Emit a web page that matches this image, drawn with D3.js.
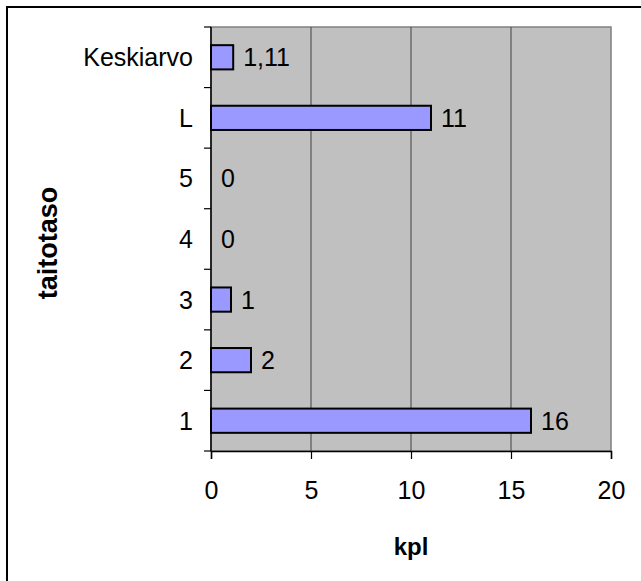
<!DOCTYPE html>
<html><head><meta charset="utf-8">
<script src="https://cdn.jsdelivr.net/npm/d3@7/dist/d3.min.js"></script>
<style>body{margin:0;background:#fff}svg{display:block}text{font-family:Arial,"Liberation Sans",sans-serif}</style>
</head><body>
<svg id="c" width="641" height="581"></svg>
<script>
const categories = ["1","2","3","4","5","L","Keskiarvo"];
const values = [16,2,1,0,0,11,1.11];
const valueLabels = ["16","2","1","0","0","11","1,11"];
const xTicks = [0,5,10,15,20];

const svg = d3.select("#c");
const L=211,R=611,T=27,B=451;
const FS=25;
// outer frame (cropped at right/bottom)
svg.append("rect").attr("x",7).attr("y",7).attr("width",700).attr("height",700)
  .attr("fill","none").attr("stroke","#000").attr("stroke-width",2);

const x = d3.scaleLinear().domain([0,20]).range([L,R]);
const y = d3.scaleBand().domain(categories).range([B,T]);

svg.append("rect").attr("x",L).attr("y",T).attr("width",R-L).attr("height",B-T)
  .attr("fill","#C0C0C0").attr("stroke","#808080").attr("stroke-width",1.5);

svg.append("g").selectAll("line").data(xTicks.filter(d=>d>0&&d<20)).join("line")
  .attr("x1",d=>x(d)).attr("x2",d=>x(d)).attr("y1",T).attr("y2",B)
  .attr("stroke","#555").attr("stroke-width",1.2);

const bh = y.step()*0.4;
const data = categories.map((c,i)=>({c,v:values[i],l:valueLabels[i]}));
svg.append("g").selectAll("rect").data(data.filter(d=>d.v>0)).join("rect")
  .attr("x",x(0)).attr("y",d=>y(d.c)+y.step()/2-bh/2)
  .attr("width",d=>x(d.v)-x(0)).attr("height",bh)
  .attr("fill","#9999FF").attr("stroke","#000").attr("stroke-width",2);

svg.append("g").selectAll("text").data(data).join("text")
  .attr("x",d=>x(d.v)+10).attr("y",d=>y(d.c)+y.step()/2)
  .attr("dy","0.36em").attr("font-size",FS).text(d=>d.l);

// axes
const xAxis = d3.axisBottom(x).tickValues(xTicks).tickSize(8).tickPadding(22).tickFormat(d3.format("d"));
const gx = svg.append("g").attr("transform",`translate(0,${B})`).call(xAxis);
gx.select(".domain").attr("stroke","#000").attr("stroke-width",1.5);
gx.selectAll(".tick line").attr("stroke","#000").attr("stroke-width",1.2);
gx.selectAll("text").attr("font-size",FS).attr("font-family","Arial,'Liberation Sans',sans-serif").attr("fill","#000");

// y axis: ticks at category boundaries
const bounds = d3.range(categories.length+1).map(i=>B - i*y.step());
svg.append("line").attr("x1",L).attr("x2",L).attr("y1",T).attr("y2",B).attr("stroke","#000").attr("stroke-width",1.5);
svg.append("g").selectAll("line").data(bounds).join("line")
  .attr("x1",L-7).attr("x2",L).attr("y1",d=>d).attr("y2",d=>d).attr("stroke","#000").attr("stroke-width",1.2);
svg.append("g").selectAll("text").data(categories).join("text")
  .attr("x",193).attr("y",d=>y(d)+y.step()/2).attr("dy","0.36em")
  .attr("text-anchor","end").attr("font-size",FS).text(d=>d);

svg.append("text").attr("x",x(10)).attr("y",555).attr("text-anchor","middle")
  .attr("font-size",24).attr("font-weight","bold").text("kpl");
svg.append("text").attr("transform",`translate(47,243) rotate(-90)`).attr("dy","0.36em")
  .attr("text-anchor","middle").attr("font-size",27).attr("font-weight","bold").text("taitotaso");
</script>
</body></html>
